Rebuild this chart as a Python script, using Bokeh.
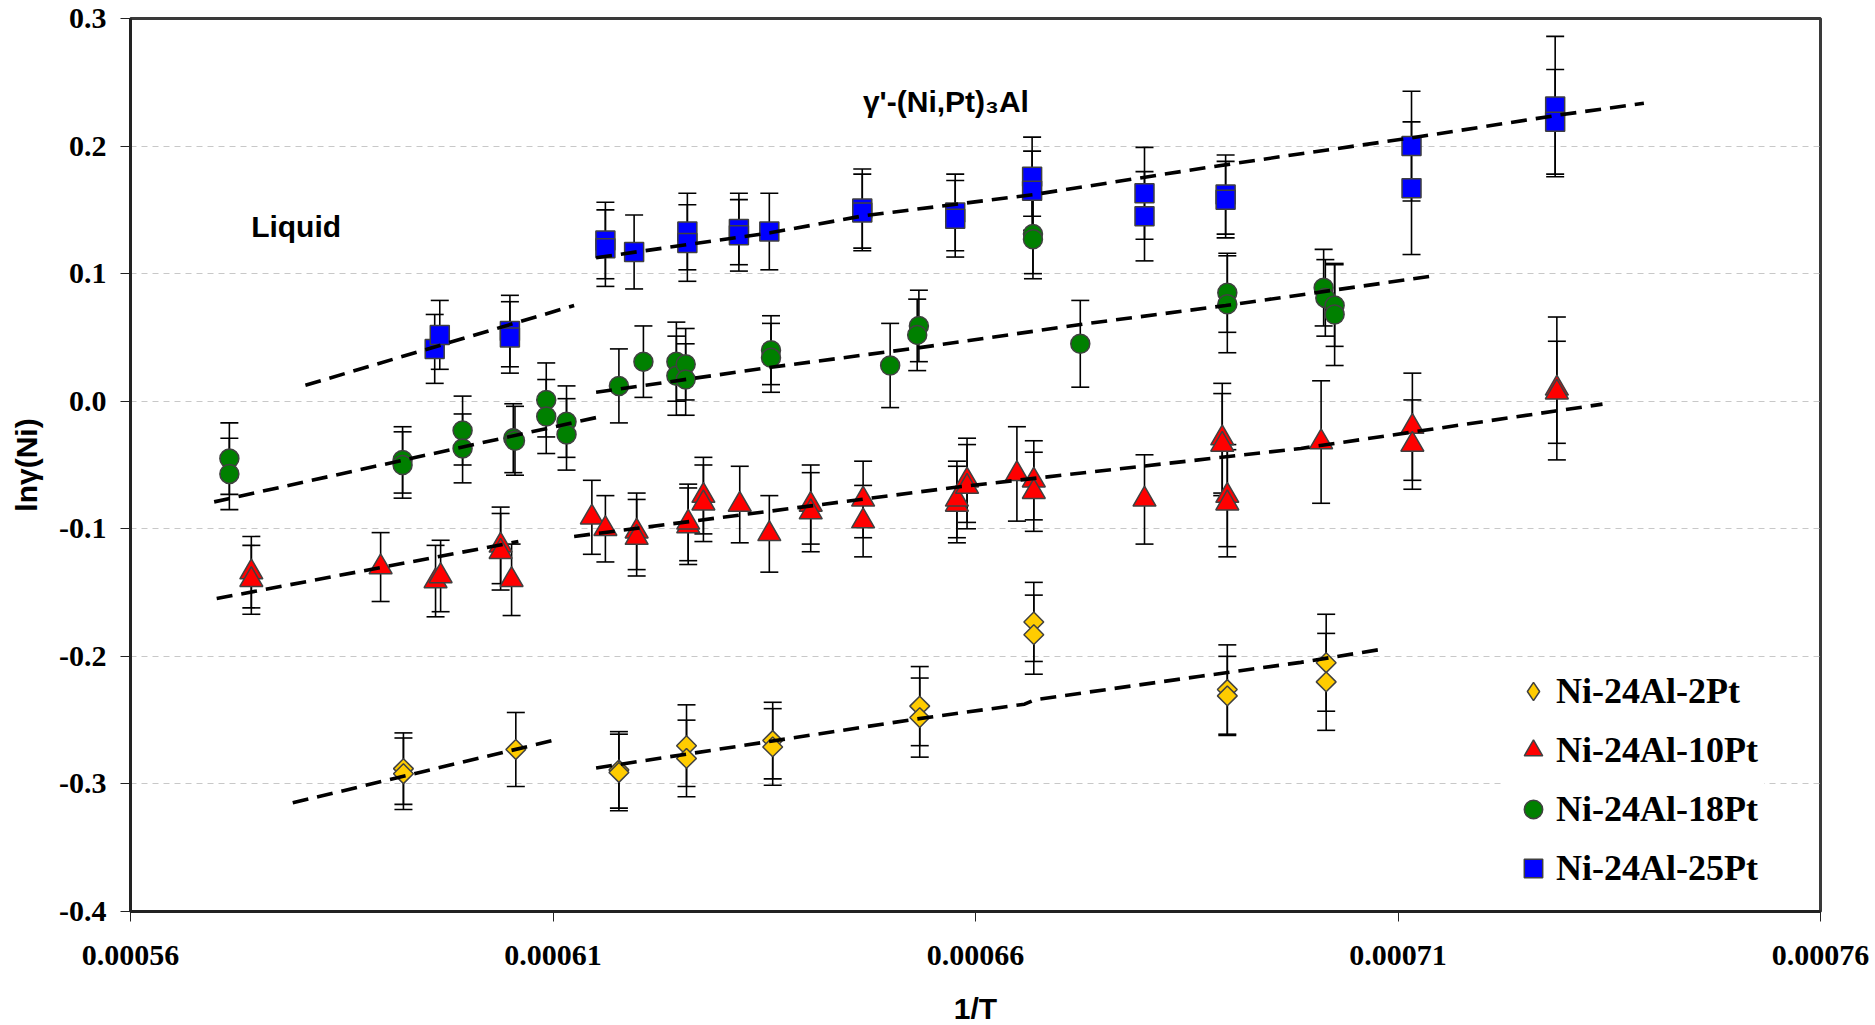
import numpy as np
from bokeh.plotting import figure
from bokeh.models import (ColumnDataSource, Whisker, TeeHead, Legend, LegendItem, Label,
                          FixedTicker, PrintfTickFormatter)
from bokeh.embed import file_html
from bokeh.resources import INLINE

# ---------------- data ----------------
x_ticks = [0.00056, 0.00061, 0.00066, 0.00071, 0.00076]
y_ticks = [-0.4, -0.3, -0.2, -0.1, 0.0, 0.1, 0.2, 0.3]

# Ni-24Al-2Pt
pt2_x = [0.0005923, 0.0005923, 0.0006056, 0.0006178, 0.0006178, 0.0006258, 0.0006258,
         0.0006360, 0.0006360, 0.0006534, 0.0006534, 0.0006669, 0.0006669,
         0.0006898, 0.0006898, 0.0007015, 0.0007015]
pt2_y = [-0.288, -0.292, -0.273, -0.289, -0.291, -0.270, -0.280,
         -0.266, -0.271, -0.239, -0.248, -0.173, -0.183,
         -0.226, -0.231, -0.205, -0.220]
pt2_e = [0.028, 0.028, 0.029, 0.030, 0.030, 0.032, 0.030,
         0.030, 0.030, 0.031, 0.031, 0.031, 0.031,
         0.035, 0.031, 0.038, 0.038]

# Ni-24Al-10Pt
pt10_x = [0.0005743, 0.0005743, 0.0005896, 0.0005961, 0.0005967, 0.0006038, 0.0006038,
          0.0006051, 0.0006146, 0.0006162, 0.0006199, 0.0006199, 0.0006260, 0.0006260,
          0.0006278, 0.0006278, 0.0006321, 0.0006356, 0.0006405, 0.0006405, 0.0006467,
          0.0006467, 0.0006578, 0.0006578, 0.0006590, 0.0006590, 0.0006649, 0.0006669,
          0.0006669, 0.0006800, 0.0006892, 0.0006892, 0.0006898, 0.0006898, 0.0007009,
          0.0007117, 0.0007117, 0.0007288, 0.0007288]
pt10_y = [-0.134, -0.140, -0.130, -0.141, -0.137, -0.113, -0.118,
          -0.140, -0.091, -0.100, -0.102, -0.107, -0.098, -0.095,
          -0.074, -0.080, -0.081, -0.104, -0.081, -0.087, -0.077,
          -0.094, -0.081, -0.077, -0.062, -0.067, -0.057, -0.062,
          -0.071, -0.077, -0.029, -0.034, -0.074, -0.080, -0.032,
          -0.020, -0.034, 0.010, 0.007]
pt10_e = [0.028, 0.027, 0.027, 0.028, 0.028, 0.030, 0.030,
          0.028, 0.029, 0.026, 0.030, 0.030, 0.030, 0.030,
          0.030, 0.030, 0.030, 0.030, 0.031, 0.031, 0.030,
          0.028, 0.030, 0.030, 0.033, 0.033, 0.037, 0.031,
          0.031, 0.035, 0.043, 0.040, 0.040, 0.042, 0.048,
          0.042, 0.035, 0.056, 0.040]

# Ni-24Al-18Pt
pt18_x = [0.0005717, 0.0005717, 0.0005922, 0.0005922, 0.0005993, 0.0005993, 0.0006053,
          0.0006055, 0.0006092, 0.0006092, 0.0006116, 0.0006116, 0.0006178, 0.0006207,
          0.0006246, 0.0006246, 0.0006257, 0.0006257, 0.0006358, 0.0006358, 0.0006499,
          0.0006533, 0.0006531, 0.0006668, 0.0006668, 0.0006724, 0.0006898, 0.0006898,
          0.0007012, 0.0007014, 0.0007025, 0.0007025]
pt18_y = [-0.045, -0.057, -0.046, -0.050, -0.023, -0.037, -0.029,
          -0.031, 0.001, -0.012, -0.016, -0.026, 0.012, 0.031,
          0.031, 0.020, 0.029, 0.017, 0.040, 0.034, 0.028,
          0.059, 0.052, 0.131, 0.127, 0.045, 0.085, 0.076,
          0.089, 0.081, 0.075, 0.068]
pt18_e = [0.028, 0.028, 0.026, 0.026, 0.027, 0.027, 0.027,
          0.027, 0.029, 0.029, 0.028, 0.028, 0.029, 0.028,
          0.031, 0.031, 0.028, 0.028, 0.027, 0.027, 0.033,
          0.028, 0.028, 0.031, 0.031, 0.034, 0.031, 0.038,
          0.030, 0.030, 0.032, 0.040]

# Ni-24Al-25Pt
pt25_x = [0.0005960, 0.0005966, 0.0006049, 0.0006049, 0.0006162, 0.0006162, 0.0006196,
          0.0006259, 0.0006259, 0.0006320, 0.0006320, 0.0006356, 0.0006466, 0.0006466,
          0.0006576, 0.0006576, 0.0006667, 0.0006667, 0.0006800, 0.0006800, 0.0006896,
          0.0006896, 0.0007116, 0.0007116, 0.0007286, 0.0007286]
pt25_y = [0.041, 0.052, 0.055, 0.050, 0.126, 0.120, 0.117,
          0.133, 0.124, 0.135, 0.130, 0.133, 0.151, 0.148,
          0.148, 0.143, 0.176, 0.165, 0.163, 0.145, 0.162,
          0.158, 0.200, 0.167, 0.231, 0.219]
pt25_e = [0.027, 0.027, 0.028, 0.028, 0.030, 0.030, 0.029,
          0.030, 0.030, 0.028, 0.028, 0.030, 0.031, 0.030,
          0.030, 0.030, 0.031, 0.031, 0.036, 0.035, 0.031,
          0.030, 0.043, 0.052, 0.055, 0.041]

# dashed fit lines (liquid segment, gamma' segment) per alloy
fit2_liq_x = [0.0005792, 0.0006107]
fit2_liq_y = [-0.3148, -0.2648]
fit2_gp_x = [0.0006151, 0.0006531, 0.0006658, 0.0006670, 0.0006866, 0.0006985, 0.0007080]
fit2_gp_y = [-0.2875, -0.2490, -0.2375, -0.2340, -0.2156, -0.2047, -0.1945]

fit10_liq_x = [0.0005702, 0.0006059]
fit10_liq_y = [-0.1547, -0.1100]
fit10_gp_x = [0.0006125, 0.0006579, 0.0006985, 0.0007342]
fit10_gp_y = [-0.1060, -0.0672, -0.0370, -0.0023]

fit18_liq_x = [0.0005699, 0.0006154]
fit18_liq_y = [-0.0789, -0.0124]
fit18_gp_x = [0.0006151, 0.0006358, 0.0006534, 0.0006727, 0.0006896, 0.0007144]
fit18_gp_y = [0.0070, 0.0266, 0.0420, 0.0604, 0.0750, 0.0984]

fit25_liq_x = [0.0005807, 0.0006125]
fit25_liq_y = [0.0125, 0.0750]
fit25_gp_x = [0.0006151, 0.0006357, 0.0006467, 0.0006669, 0.0006877, 0.0006985, 0.0007116, 0.0007289, 0.0007391]
fit25_gp_y = [0.1125, 0.1320, 0.1453, 0.1620, 0.1835, 0.1940, 0.2064, 0.2242, 0.2336]

series_names = ["Ni-24Al-2Pt", "Ni-24Al-10Pt", "Ni-24Al-18Pt", "Ni-24Al-25Pt"]

# ---------------- figure ----------------
p = figure(frame_width=1690, frame_height=893,
           x_range=(0.00056, 0.00076), y_range=(-0.4, 0.3),
           min_border_left=130, min_border_right=55, min_border_top=18, min_border_bottom=114,
           output_backend="svg", toolbar_location=None,
           background_fill_color="white", border_fill_color="white")

p.outline_line_color = "#3a3a3a"
p.outline_line_width = 3

p.xgrid.visible = False
p.ygrid.grid_line_color = "#c8c8c8"
p.ygrid.grid_line_dash = "6 5"
p.ygrid.grid_line_width = 1

p.xaxis.ticker = FixedTicker(ticks=x_ticks)
p.yaxis.ticker = FixedTicker(ticks=y_ticks)
p.ygrid.ticker = FixedTicker(ticks=y_ticks)
p.xaxis.formatter = PrintfTickFormatter(format="%.5f")
p.yaxis.formatter = PrintfTickFormatter(format="%.1f")

for ax in (p.xaxis[0], p.yaxis[0]):
    ax.axis_line_color = "#222222"
    ax.axis_line_width = 3
    ax.major_tick_line_color = "#222222"
    ax.major_tick_line_width = 1
    ax.major_tick_out = 10
    ax.major_tick_in = 0
    ax.minor_tick_line_color = None
    ax.major_label_text_font = "Liberation Serif"
    ax.major_label_text_font_style = "bold"
    ax.major_label_text_font_size = "30px"
    ax.major_label_text_color = "black"
    ax.axis_label_text_font = "Liberation Sans"
    ax.axis_label_text_font_style = "bold"
    ax.axis_label_text_font_size = "30px"
    ax.axis_label_text_color = "black"

p.xaxis.axis_label = "1/T"
p.yaxis.axis_label = "lnγ(Ni)"
p.xaxis.major_label_standoff = 24
p.yaxis.major_label_standoff = 14
p.xaxis.axis_label_standoff = 24
p.yaxis.axis_label_standoff = 13

# ---------------- error bars ----------------
def add_err(xs, ys, es):
    src = ColumnDataSource(dict(x=xs, upper=[a + b for a, b in zip(ys, es)],
                                lower=[a - b for a, b in zip(ys, es)]))
    w = Whisker(source=src, base="x", upper="upper", lower="lower",
                line_color="black", line_width=1.6, level="underlay",
                upper_head=TeeHead(size=18, line_color="black", line_width=1.6),
                lower_head=TeeHead(size=18, line_color="black", line_width=1.6))
    p.add_layout(w)

for xs, ys, es in [(pt2_x, pt2_y, pt2_e), (pt10_x, pt10_y, pt10_e),
                   (pt18_x, pt18_y, pt18_e), (pt25_x, pt25_y, pt25_e)]:
    add_err(xs, ys, es)

# ---------------- markers ----------------
outline = "#404040"
r2 = p.scatter(pt2_x, pt2_y, marker="square", angle=np.pi / 4, size=14,
               fill_color="#FFCC00", line_color=outline, line_width=1.5)
r10 = p.scatter(pt10_x, pt10_y, marker="triangle", size=23,
                fill_color="#FF0000", line_color=outline, line_width=1.5)
r18 = p.scatter(pt18_x, pt18_y, marker="circle", size=19,
                fill_color="#008000", line_color=outline, line_width=1.5)
r25 = p.scatter(pt25_x, pt25_y, marker="square", size=19,
                fill_color="#0000FF", line_color=outline, line_width=1.5)
# legend-only glyph for the diamond entry (legend ignores marker angle)
r2_leg = p.scatter(pt2_x[:1], pt2_y[:1], marker="diamond", size=14,
                   fill_color="#FFCC00", line_color=outline, line_width=1.5, visible=False)

# ---------------- fit lines ----------------
for fx, fy in [(fit2_liq_x, fit2_liq_y), (fit2_gp_x, fit2_gp_y),
               (fit10_liq_x, fit10_liq_y), (fit10_gp_x, fit10_gp_y),
               (fit18_liq_x, fit18_liq_y), (fit18_gp_x, fit18_gp_y),
               (fit25_liq_x, fit25_liq_y), (fit25_gp_x, fit25_gp_y)]:
    p.line(fx, fy, line_color="black", line_width=3.6, line_dash="16 9")

# ---------------- annotations ----------------
p.add_layout(Label(x=0.0005796, y=0.137, text="Liquid", text_align="center",
                   text_baseline="middle", text_font="Liberation Sans",
                   text_font_style="bold", text_font_size="30px", text_color="black"))
p.add_layout(Label(x=0.0006565, y=0.235, text="γ'-(Ni,Pt)₃Al", text_align="center",
                   text_baseline="middle", text_font="Liberation Sans",
                   text_font_style="bold", text_font_size="30px", text_color="black"))

# ---------------- legend ----------------
legend = Legend(items=[LegendItem(label=series_names[0], renderers=[r2_leg]),
                       LegendItem(label=series_names[1], renderers=[r10]),
                       LegendItem(label=series_names[2], renderers=[r18]),
                       LegendItem(label=series_names[3], renderers=[r25])],
                location=(1374, 13), orientation="vertical",
                label_text_font="Liberation Serif", label_text_font_style="bold",
                label_text_font_size="36px", label_text_color="black",
                glyph_width=46, glyph_height=48, label_standoff=0,
                spacing=11, padding=6, margin=0,
                border_line_alpha=0, background_fill_color="white",
                background_fill_alpha=1.0)
p.add_layout(legend)

open("out.html", "w").write(file_html(p, INLINE))
